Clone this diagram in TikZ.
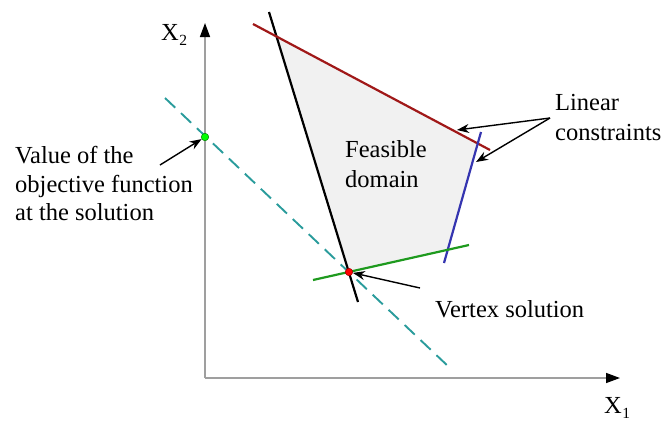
\documentclass[tikz,border=0pt]{standalone}
\usepackage{fontspec}
\setmainfont{Liberation Serif}
\usetikzlibrary{arrows.meta}
\definecolor{feasgray}{HTML}{F1F1F1}
\definecolor{cred}{HTML}{A01818}
\definecolor{cblue}{HTML}{3535B0}
\definecolor{cgreen}{HTML}{1E9A1E}
\definecolor{cteal}{HTML}{2A9C9C}
\begin{document}
\begin{tikzpicture}[x=1pt,y=-1pt,
  lbl/.style={anchor=base west, inner sep=0pt, font=\fontsize{24.5}{28}\selectfont},
  sub/.style={anchor=base west, inner sep=0pt, font=\fontsize{15.5}{15.5}\selectfont},
  axisline/.style={draw=gray!75, line width=1.4pt, -{Triangle[length=14pt,width=10pt,color=black]}},
  cline/.style={line width=2.2pt},
  ptr/.style={draw=black, line width=1.4pt, -{Stealth[length=12pt,width=9pt]}},
  dot/.style={circle, inner sep=0pt, minimum size=7.5pt, line width=0.5pt}]
\useasboundingbox (0,0) rectangle (662,421);
% coordinates
\coordinate (o) at (205,378);
\coordinate (ytip) at (205,23);
\coordinate (xtip) at (620,378);
\coordinate (bA) at (269,12);
\coordinate (bB) at (358,302);
\coordinate (rA) at (253,24);
\coordinate (rB) at (490,150);
\coordinate (uA) at (481,132);
\coordinate (uB) at (444,263);
\coordinate (gA) at (313,280);
\coordinate (gB) at (469,245);
\coordinate (dA) at (165,98);
\coordinate (dB) at (450,368);
\coordinate (p1) at (276.5,36.5);
\coordinate (p2) at (477,143);
\coordinate (p3) at (447.6,249.8);
\coordinate (p4) at (349,272);
% feasible region
\fill[feasgray] (p1) -- (p2) -- (p3) -- (p4) -- cycle;
% axes
\draw[axisline] (o) -- (ytip);
\draw[axisline] (o) -- (xtip);
% objective line
\draw[cteal, line width=1.9pt, dash pattern=on 14pt off 8pt] (dA) -- (dB);
% constraints
\draw[cline, black] (bA) -- (bB);
\draw[cline, cred] (rA) -- (rB);
\draw[cline, cblue] (uA) -- (uB);
\draw[cline, cgreen] (gA) -- (gB);
% dots
\node[dot, fill=green, draw=green!50!black] (gdot) at (205,137) {};
\node[dot, fill=red, draw=red!60!black] (vdot) at (349,272) {};
% labels
\node[lbl] (x2) at (161,40) {X};
\node[sub] (x2s) at (x2.base east) [yshift=-5pt] {2};
\node[lbl] (x1) at (604,413) {X};
\node[sub] (x1s) at (x1.base east) [yshift=-5pt] {1};
\node[lbl] (feas1) at (345,157) {Feasible};
\node[lbl] (feas2) at (345,187) {domain};
\node[lbl] (lin1) at (555,110) {Linear};
\node[lbl] (lin2) at (555,140) {constraints};
\node[lbl] (vert) at (435,317) {Vertex solution};
\node[lbl] (val1) at (15,163) {Value of the};
\node[lbl] (val2) at (15,192) {objective function};
\node[lbl] (val3) at (15,220) {at the solution};
% pointers
\coordinate (linS) at (550,118);
\coordinate (linT1) at (457,130);
\coordinate (linT2) at (476,162);
\coordinate (vS) at (420,288);
\coordinate (valS) at (160,165);
\draw[ptr] (linS) -- (linT1);
\draw[ptr] (linS) -- (linT2);
\draw[ptr] (vS) -- (vdot);
\draw[ptr] (valS) -- (gdot);
\end{tikzpicture}
\end{document}
